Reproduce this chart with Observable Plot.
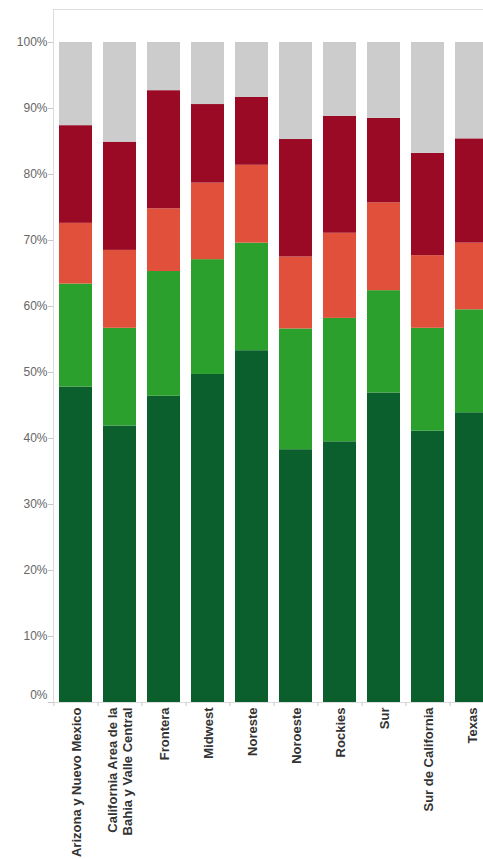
<!DOCTYPE html>
<html>
<head>
<meta charset="utf-8">
<script src="https://cdn.jsdelivr.net/npm/d3@7"></script>
<script src="https://cdn.jsdelivr.net/npm/@observablehq/plot@0.6"></script>
<style>
  html, body { margin: 0; padding: 0; background: #fff; overflow: hidden; }
  #chart { width: 483px; height: 859px; overflow: hidden; }
  #chart svg { max-width: none !important; }
</style>
</head>
<body>
<div id="chart"></div>
<script>
const categories = [
  "Arizona y Nuevo Mexico",
  "California Area de la\nBahia y Valle Central",
  "Frontera",
  "Midwest",
  "Noreste",
  "Noroeste",
  "Rockies",
  "Sur",
  "Sur de California",
  "Texas"
];
const series = ["Nivel 1", "Nivel 2", "Nivel 3", "Nivel 4", "Nivel 5"];
const colors = ["#0a5f2c", "#2ca02c", "#e0503a", "#9a0a24", "#cccccc"];

// share (%) of each segment per region, bottom to top
const nivel1 = [47.8, 41.9, 46.4, 49.7, 53.3, 38.3, 39.5, 46.9, 41.1, 43.9];
const nivel2 = [15.6, 14.8, 18.9, 17.4, 16.3, 18.3, 18.7, 15.5, 15.6, 15.6];
const nivel3 = [ 9.2, 11.8,  9.5, 11.6, 11.8, 10.9, 12.9, 13.3, 11.0, 10.1];
const nivel4 = [14.8, 16.4, 17.9, 11.9, 10.3, 17.8, 17.7, 12.8, 15.5, 15.8];
const nivel5 = [12.6, 15.1,  7.3,  9.4,  8.3, 14.7, 11.2, 11.5, 16.8, 14.6];

const yTicks = [0, 0.1, 0.2, 0.3, 0.4, 0.5, 0.6, 0.7, 0.8, 0.9, 1.0];

const seriesValues = [nivel1, nivel2, nivel3, nivel4, nivel5];
const rows = [];
categories.forEach((c, i) => {
  series.forEach((s, j) => {
    rows.push({region: c, series: s, value: seriesValues[j][i]});
  });
});

const chart = Plot.plot({
  width: 500,
  height: 859,
  marginTop: 9,
  marginBottom: 157,
  marginLeft: 53,
  marginRight: 6,
  style: {fontFamily: "'Liberation Sans', Arial, sans-serif", background: "#fff", maxWidth: "none"},
  x: {domain: categories, paddingInner: 0.25, paddingOuter: 0.125, axis: null, label: null},
  y: {domain: [0, 1.05], axis: null, label: null},
  color: {domain: series, range: colors},
  marks: [
    Plot.barY(rows, Plot.stackY({offset: "normalize"}, {x: "region", y: "value", fill: "series"})),
    Plot.frame({stroke: "#dcdcdc"}),
    // y tick marks
    Plot.axisY({ticks: yTicks, tickSize: 5, tickFormat: () => "", color: "#c8c8c8", label: null}),
    // y tick labels (10%..100%)
    Plot.axisY({ticks: yTicks.filter(v => v > 0), tickSize: 0, tickPadding: 6, tickFormat: d3.format(".0%"), color: "#666", fontSize: 12, label: null}),
    // 0% label, nudged up like the original
    Plot.axisY({ticks: [0], tickSize: 0, tickPadding: 6, dy: -7, tickFormat: d3.format(".0%"), color: "#666", fontSize: 12, label: null}),
    // x tick marks at band boundaries
    Plot.axisX({tickSize: 4, tickFormat: () => "", dx: -22, color: "#c8c8c8", label: null}),
    // x labels
    Plot.axisX({tickRotate: -90, tickSize: 0, tickPadding: 5, color: "#333", fontSize: 13, fontWeight: "bold", lineHeight: 1.1, label: null})
  ]
});
document.getElementById("chart").appendChild(chart);
</script>
</body>
</html>
